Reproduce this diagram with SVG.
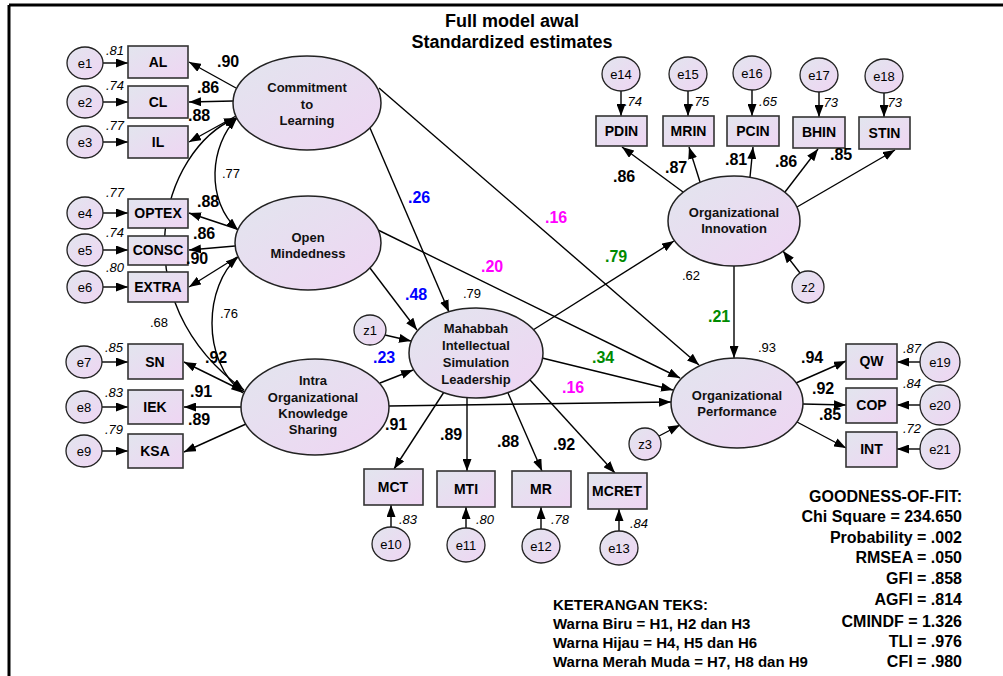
<svg xmlns="http://www.w3.org/2000/svg" width="1003" height="676" viewBox="0 0 1003 676">
<defs>
<linearGradient id="g" x1="0" y1="0" x2="1" y2="1">
<stop offset="0" stop-color="#e2e5ee"/>
<stop offset="1" stop-color="#efd5f3"/>
</linearGradient>
<marker id="a" markerUnits="userSpaceOnUse" markerWidth="12" markerHeight="9" refX="12" refY="4.5" orient="auto-start-reverse">
<path d="M0,0 L12,4.5 L0,9 z" fill="#000"/>
</marker>
<style>
text{font-family:"Liberation Sans",Arial,sans-serif;fill:#000}
.lv ellipse{fill:url(#g);stroke:#222;stroke-width:1.5}
.bx rect{fill:url(#g);stroke:#333;stroke-width:1.6}
.er ellipse{fill:url(#g);stroke:#222;stroke-width:1.3}
.lt{font-size:13px;font-weight:bold;text-anchor:middle;fill:#111}
.bt{font-size:14px;font-weight:bold;text-anchor:middle}
.et{font-size:13px;text-anchor:middle}
.ld{font-size:16px;font-weight:bold}
.it{font-size:13px;font-style:italic}
.cv{font-size:13px}
.c path,.c line{stroke:#000;stroke-width:1.4;fill:none;marker-end:url(#a)}
.c .d{marker-start:url(#a)}
.blue{fill:#0000ff}
.mag{fill:#ff00ff}
.grn{fill:#008a00}
.hd{font-size:18px;font-weight:bold;text-anchor:middle}
.gf{font-size:16px;font-weight:bold;text-anchor:end}
.kt{font-size:15px;font-weight:bold}
</style>
</defs>
<rect width="1003" height="676" fill="#fff"/>
<path d="M9,5 H1003 M9,5 V676" stroke="#000" stroke-width="3" fill="none"/>

<g id="title">
<text class="hd" x="512" y="27">Full model awal</text>
<text class="hd" x="512" y="48">Standardized estimates</text>
</g>

<g id="connectors" class="c">
<!-- error to indicator -->
<line x1="103" y1="63" x2="128" y2="63"/>
<line x1="103" y1="102" x2="128" y2="102"/>
<line x1="103" y1="142" x2="128" y2="142"/>
<line x1="103" y1="213" x2="128" y2="213"/>
<line x1="103" y1="250" x2="128" y2="250"/>
<line x1="103" y1="287" x2="128" y2="287"/>
<line x1="102" y1="362" x2="128" y2="362"/>
<line x1="102" y1="407" x2="128" y2="407"/>
<line x1="102" y1="451" x2="128" y2="451"/>
<line x1="621" y1="91" x2="621" y2="116"/>
<line x1="688" y1="91" x2="688" y2="116"/>
<line x1="752" y1="90" x2="752" y2="116"/>
<line x1="819" y1="92" x2="819" y2="117"/>
<line x1="884" y1="93" x2="884" y2="117"/>
<line x1="391" y1="528" x2="391" y2="505"/>
<line x1="466" y1="529" x2="466" y2="507"/>
<line x1="541" y1="530" x2="541" y2="507"/>
<line x1="619" y1="532" x2="619" y2="509"/>
<line x1="920" y1="362" x2="897" y2="362"/>
<line x1="920" y1="405" x2="897" y2="405"/>
<line x1="920" y1="449" x2="897" y2="449"/>
<!-- loadings -->
<line x1="236" y1="88" x2="189" y2="62"/>
<line x1="233" y1="101" x2="189" y2="102"/>
<line x1="236" y1="116" x2="189" y2="142"/>
<line x1="237" y1="229" x2="189" y2="213"/>
<line x1="235" y1="246" x2="189" y2="250"/>
<line x1="237" y1="257" x2="189" y2="287"/>
<line x1="245" y1="392" x2="184" y2="362"/>
<line x1="241" y1="407" x2="184" y2="407"/>
<line x1="246" y1="424" x2="184" y2="452"/>
<line x1="444" y1="392" x2="394" y2="469"/>
<line x1="467" y1="398" x2="467" y2="471"/>
<line x1="508" y1="393" x2="542" y2="471"/>
<line x1="530" y1="380" x2="615" y2="473"/>
<line x1="683" y1="192" x2="622" y2="147"/>
<line x1="700" y1="182" x2="689" y2="147"/>
<line x1="750" y1="177" x2="753" y2="147"/>
<line x1="785" y1="192" x2="818" y2="149"/>
<line x1="797" y1="207" x2="895" y2="150"/>
<line x1="796" y1="383" x2="846" y2="361"/>
<line x1="803" y1="404" x2="846" y2="405"/>
<line x1="797" y1="422" x2="846" y2="448"/>
<!-- covariances -->
<path class="d" d="M237,118 C210,145 205,200 238,230"/>
<path class="d" d="M238,257 C205,285 200,360 243,393"/>
<path class="d" d="M236,118 C160,150 120,300 244,390"/>
<!-- structural -->
<line x1="370" y1="128" x2="449" y2="312"/>
<line x1="379" y1="88" x2="699" y2="365"/>
<line x1="370" y1="268" x2="417" y2="330"/>
<line x1="378" y1="230" x2="680" y2="378"/>
<line x1="380" y1="383" x2="413" y2="370"/>
<line x1="389" y1="406" x2="671" y2="402"/>
<line x1="533" y1="330" x2="674" y2="241"/>
<line x1="542" y1="358" x2="673" y2="390"/>
<line x1="734" y1="266" x2="734" y2="358"/>
<line x1="385" y1="335" x2="411" y2="341"/>
<line x1="800" y1="273" x2="783" y2="251"/>
<line x1="659" y1="436" x2="680" y2="425"/>
</g>

<g id="CommitmentToLearning" class="lv">
<ellipse cx="307" cy="103" rx="74" ry="47"/>
<text class="lt" x="307" y="92">Commitment</text>
<text class="lt" x="307" y="109">to</text>
<text class="lt" x="307" y="125">Learning</text>
</g>
<g id="OpenMindedness" class="lv">
<ellipse cx="308" cy="243" rx="73" ry="47"/>
<text class="lt" x="308" y="242">Open</text>
<text class="lt" x="308" y="258">Mindedness</text>
</g>
<g id="IntraOrgKnowledgeSharing" class="lv">
<ellipse cx="315" cy="407" rx="74" ry="48"/>
<text class="lt" x="313" y="385">Intra</text>
<text class="lt" x="313" y="402">Organizational</text>
<text class="lt" x="313" y="418">Knowledge</text>
<text class="lt" x="313" y="434">Sharing</text>
</g>
<g id="MahabbahISL" class="lv">
<ellipse cx="476" cy="353" rx="67" ry="45"/>
<text class="lt" x="476" y="333">Mahabbah</text>
<text class="lt" x="476" y="350">Intellectual</text>
<text class="lt" x="476" y="367">Simulation</text>
<text class="lt" x="476" y="384">Leadership</text>
</g>
<g id="OrgInnovation" class="lv">
<ellipse cx="734" cy="221" rx="66" ry="45"/>
<text class="lt" x="734" y="217">Organizational</text>
<text class="lt" x="734" y="233">Innovation</text>
</g>
<g id="OrgPerformance" class="lv">
<ellipse cx="737" cy="403" rx="66" ry="45"/>
<text class="lt" x="737" y="400">Organizational</text>
<text class="lt" x="737" y="416">Performance</text>
</g>

<g id="AL" class="bx"><rect x="128" y="46" width="60" height="32"/><text class="bt" x="158" y="67">AL</text></g>
<g id="CL" class="bx"><rect x="128" y="86" width="60" height="32"/><text class="bt" x="158" y="107">CL</text></g>
<g id="IL" class="bx"><rect x="128" y="126" width="60" height="32"/><text class="bt" x="158" y="147">IL</text></g>
<g id="OPTEX" class="bx"><rect x="128" y="199" width="60" height="29"/><text class="bt" x="158" y="218">OPTEX</text></g>
<g id="CONSC" class="bx"><rect x="128" y="236" width="60" height="29"/><text class="bt" x="158" y="255">CONSC</text></g>
<g id="EXTRA" class="bx"><rect x="128" y="272" width="60" height="30"/><text class="bt" x="158" y="292">EXTRA</text></g>
<g id="SN" class="bx"><rect x="128" y="344" width="55" height="35"/><text class="bt" x="155" y="367">SN</text></g>
<g id="IEK" class="bx"><rect x="128" y="390" width="55" height="34"/><text class="bt" x="155" y="412">IEK</text></g>
<g id="KSA" class="bx"><rect x="128" y="434" width="55" height="34"/><text class="bt" x="155" y="456">KSA</text></g>
<g id="MCT" class="bx"><rect x="364" y="469" width="59" height="36"/><text class="bt" x="393" y="492">MCT</text></g>
<g id="MTI" class="bx"><rect x="437" y="471" width="58" height="36"/><text class="bt" x="466" y="494">MTI</text></g>
<g id="MR" class="bx"><rect x="512" y="471" width="59" height="36"/><text class="bt" x="541" y="494">MR</text></g>
<g id="MCRET" class="bx"><rect x="588" y="473" width="59" height="36"/><text class="bt" x="617" y="496">MCRET</text></g>
<g id="PDIN" class="bx"><rect x="596" y="116" width="51" height="30"/><text class="bt" x="621.5" y="136">PDIN</text></g>
<g id="MRIN" class="bx"><rect x="663" y="116" width="51" height="30"/><text class="bt" x="688.5" y="136">MRIN</text></g>
<g id="PCIN" class="bx"><rect x="727" y="116" width="52" height="30"/><text class="bt" x="753" y="136">PCIN</text></g>
<g id="BHIN" class="bx"><rect x="793" y="117" width="52" height="31"/><text class="bt" x="819" y="137">BHIN</text></g>
<g id="STIN" class="bx"><rect x="859" y="117" width="51" height="32"/><text class="bt" x="884.5" y="138">STIN</text></g>
<g id="QW" class="bx"><rect x="846" y="344" width="51" height="35"/><text class="bt" x="871.5" y="366">QW</text></g>
<g id="COP" class="bx"><rect x="846" y="388" width="51" height="35"/><text class="bt" x="871.5" y="410">COP</text></g>
<g id="INT" class="bx"><rect x="846" y="432" width="51" height="35"/><text class="bt" x="871.5" y="454">INT</text></g>

<g id="e1" class="er"><ellipse cx="85" cy="63" rx="18" ry="16"/><text class="et" x="85" y="68">e1</text></g>
<g id="e2" class="er"><ellipse cx="85" cy="102" rx="18" ry="16"/><text class="et" x="85" y="107">e2</text></g>
<g id="e3" class="er"><ellipse cx="85" cy="142" rx="18" ry="16"/><text class="et" x="85" y="147">e3</text></g>
<g id="e4" class="er"><ellipse cx="85" cy="213" rx="18" ry="16"/><text class="et" x="85" y="218">e4</text></g>
<g id="e5" class="er"><ellipse cx="85" cy="250" rx="18" ry="16"/><text class="et" x="85" y="255">e5</text></g>
<g id="e6" class="er"><ellipse cx="85" cy="287" rx="18" ry="16"/><text class="et" x="85" y="292">e6</text></g>
<g id="e7" class="er"><ellipse cx="84" cy="362" rx="18" ry="16"/><text class="et" x="84" y="367">e7</text></g>
<g id="e8" class="er"><ellipse cx="84" cy="407" rx="18" ry="16"/><text class="et" x="84" y="412">e8</text></g>
<g id="e9" class="er"><ellipse cx="84" cy="451" rx="18" ry="16"/><text class="et" x="84" y="456">e9</text></g>
<g id="e10" class="er"><ellipse cx="391" cy="544" rx="19" ry="17"/><text class="et" x="391" y="549">e10</text></g>
<g id="e11" class="er"><ellipse cx="466" cy="545" rx="19" ry="17"/><text class="et" x="466" y="550">e11</text></g>
<g id="e12" class="er"><ellipse cx="541" cy="546" rx="19" ry="17"/><text class="et" x="541" y="551">e12</text></g>
<g id="e13" class="er"><ellipse cx="619" cy="548" rx="19" ry="17"/><text class="et" x="619" y="553">e13</text></g>
<g id="e14" class="er"><ellipse cx="621" cy="74" rx="19" ry="17"/><text class="et" x="621" y="79">e14</text></g>
<g id="e15" class="er"><ellipse cx="688" cy="74" rx="19" ry="17"/><text class="et" x="688" y="79">e15</text></g>
<g id="e16" class="er"><ellipse cx="752" cy="73" rx="19" ry="17"/><text class="et" x="752" y="78">e16</text></g>
<g id="e17" class="er"><ellipse cx="819" cy="75" rx="19" ry="17"/><text class="et" x="819" y="80">e17</text></g>
<g id="e18" class="er"><ellipse cx="884" cy="76" rx="19" ry="17"/><text class="et" x="884" y="81">e18</text></g>
<g id="e19" class="er"><ellipse cx="940" cy="362" rx="20" ry="20"/><text class="et" x="940" y="367">e19</text></g>
<g id="e20" class="er"><ellipse cx="940" cy="405" rx="20" ry="20"/><text class="et" x="940" y="410">e20</text></g>
<g id="e21" class="er"><ellipse cx="940" cy="449" rx="20" ry="20"/><text class="et" x="940" y="454">e21</text></g>
<g id="z1" class="er"><ellipse cx="370" cy="330" rx="16" ry="15"/><text class="et" x="370" y="335">z1</text></g>
<g id="z2" class="er"><ellipse cx="808" cy="287" rx="16" ry="16"/><text class="et" x="808" y="292">z2</text></g>
<g id="z3" class="er"><ellipse cx="645" cy="444" rx="16" ry="16"/><text class="et" x="645" y="449">z3</text></g>

<g id="labels">
<text class="it" x="106" y="55">.81</text>
<text class="it" x="106" y="90">.74</text>
<text class="it" x="106" y="130">.77</text>
<text class="it" x="106" y="197">.77</text>
<text class="it" x="106" y="237">.74</text>
<text class="it" x="106" y="272">.80</text>
<text class="it" x="105" y="352">.85</text>
<text class="it" x="105" y="397">.83</text>
<text class="it" x="105" y="434">.79</text>
<text class="it" x="624" y="106">.74</text>
<text class="it" x="691" y="106">.75</text>
<text class="it" x="759" y="106">.65</text>
<text class="it" x="820" y="107">.73</text>
<text class="it" x="884" y="107">.73</text>
<text class="it" x="399" y="524">.83</text>
<text class="it" x="476" y="524">.80</text>
<text class="it" x="551" y="524">.78</text>
<text class="it" x="630" y="528">.84</text>
<text class="it" x="903" y="353">.87</text>
<text class="it" x="903" y="388">.84</text>
<text class="it" x="903" y="433">.72</text>

<text class="ld" x="217" y="67">.90</text>
<text class="ld" x="197" y="93">.86</text>
<text class="ld" x="188" y="121">.88</text>
<text class="ld" x="197" y="207">.88</text>
<text class="ld" x="193" y="239">.86</text>
<text class="ld" x="186" y="264">.90</text>
<text class="ld" x="205" y="363">.92</text>
<text class="ld" x="190" y="397">.91</text>
<text class="ld" x="188" y="425">.89</text>
<text class="ld" x="385" y="430">.91</text>
<text class="ld" x="440" y="440">.89</text>
<text class="ld" x="497" y="447">.88</text>
<text class="ld" x="553" y="450">.92</text>
<text class="ld" x="613" y="182">.86</text>
<text class="ld" x="665" y="173">.87</text>
<text class="ld" x="725" y="165">.81</text>
<text class="ld" x="775" y="167">.86</text>
<text class="ld" x="830" y="160">.85</text>
<text class="ld" x="801" y="363">.94</text>
<text class="ld" x="812" y="394">.92</text>
<text class="ld" x="819" y="420">.85</text>

<text class="ld blue" x="408" y="203">.26</text>
<text class="ld mag" x="545" y="223">.16</text>
<text class="ld mag" x="481" y="272">.20</text>
<text class="ld blue" x="405" y="300">.48</text>
<text class="ld blue" x="373" y="363">.23</text>
<text class="ld grn" x="605" y="262">.79</text>
<text class="ld grn" x="708" y="322">.21</text>
<text class="ld grn" x="592" y="363">.34</text>
<text class="ld mag" x="562" y="393">.16</text>

<text class="cv" x="222" y="178">.77</text>
<text class="cv" x="220" y="318">.76</text>
<text class="cv" x="150" y="327">.68</text>
<text class="cv" x="463" y="298" fill="#6b2d60">.79</text>
<text class="cv" x="682" y="280">.62</text>
<text class="cv" x="758" y="352" fill="#7a2525">.93</text>
</g>

<g id="legend">
<text class="kt" x="553" y="610">KETERANGAN TEKS:</text>
<text class="kt" x="553" y="629">Warna Biru = H1, H2 dan H3</text>
<text class="kt" x="553" y="648">Warna Hijau = H4, H5 dan H6</text>
<text class="kt" x="553" y="667">Warna Merah Muda = H7, H8 dan H9</text>
</g>

<g id="fit">
<text class="gf" x="962" y="502">GOODNESS-OF-FIT:</text>
<text class="gf" x="962" y="522">Chi Square = 234.650</text>
<text class="gf" x="962" y="543">Probability = .002</text>
<text class="gf" x="962" y="563">RMSEA = .050</text>
<text class="gf" x="962" y="584">GFI = .858</text>
<text class="gf" x="962" y="605">AGFI = .814</text>
<text class="gf" x="962" y="627">CMINDF = 1.326</text>
<text class="gf" x="962" y="647">TLI = .976</text>
<text class="gf" x="962" y="667">CFI = .980</text>
</g>
</svg>
